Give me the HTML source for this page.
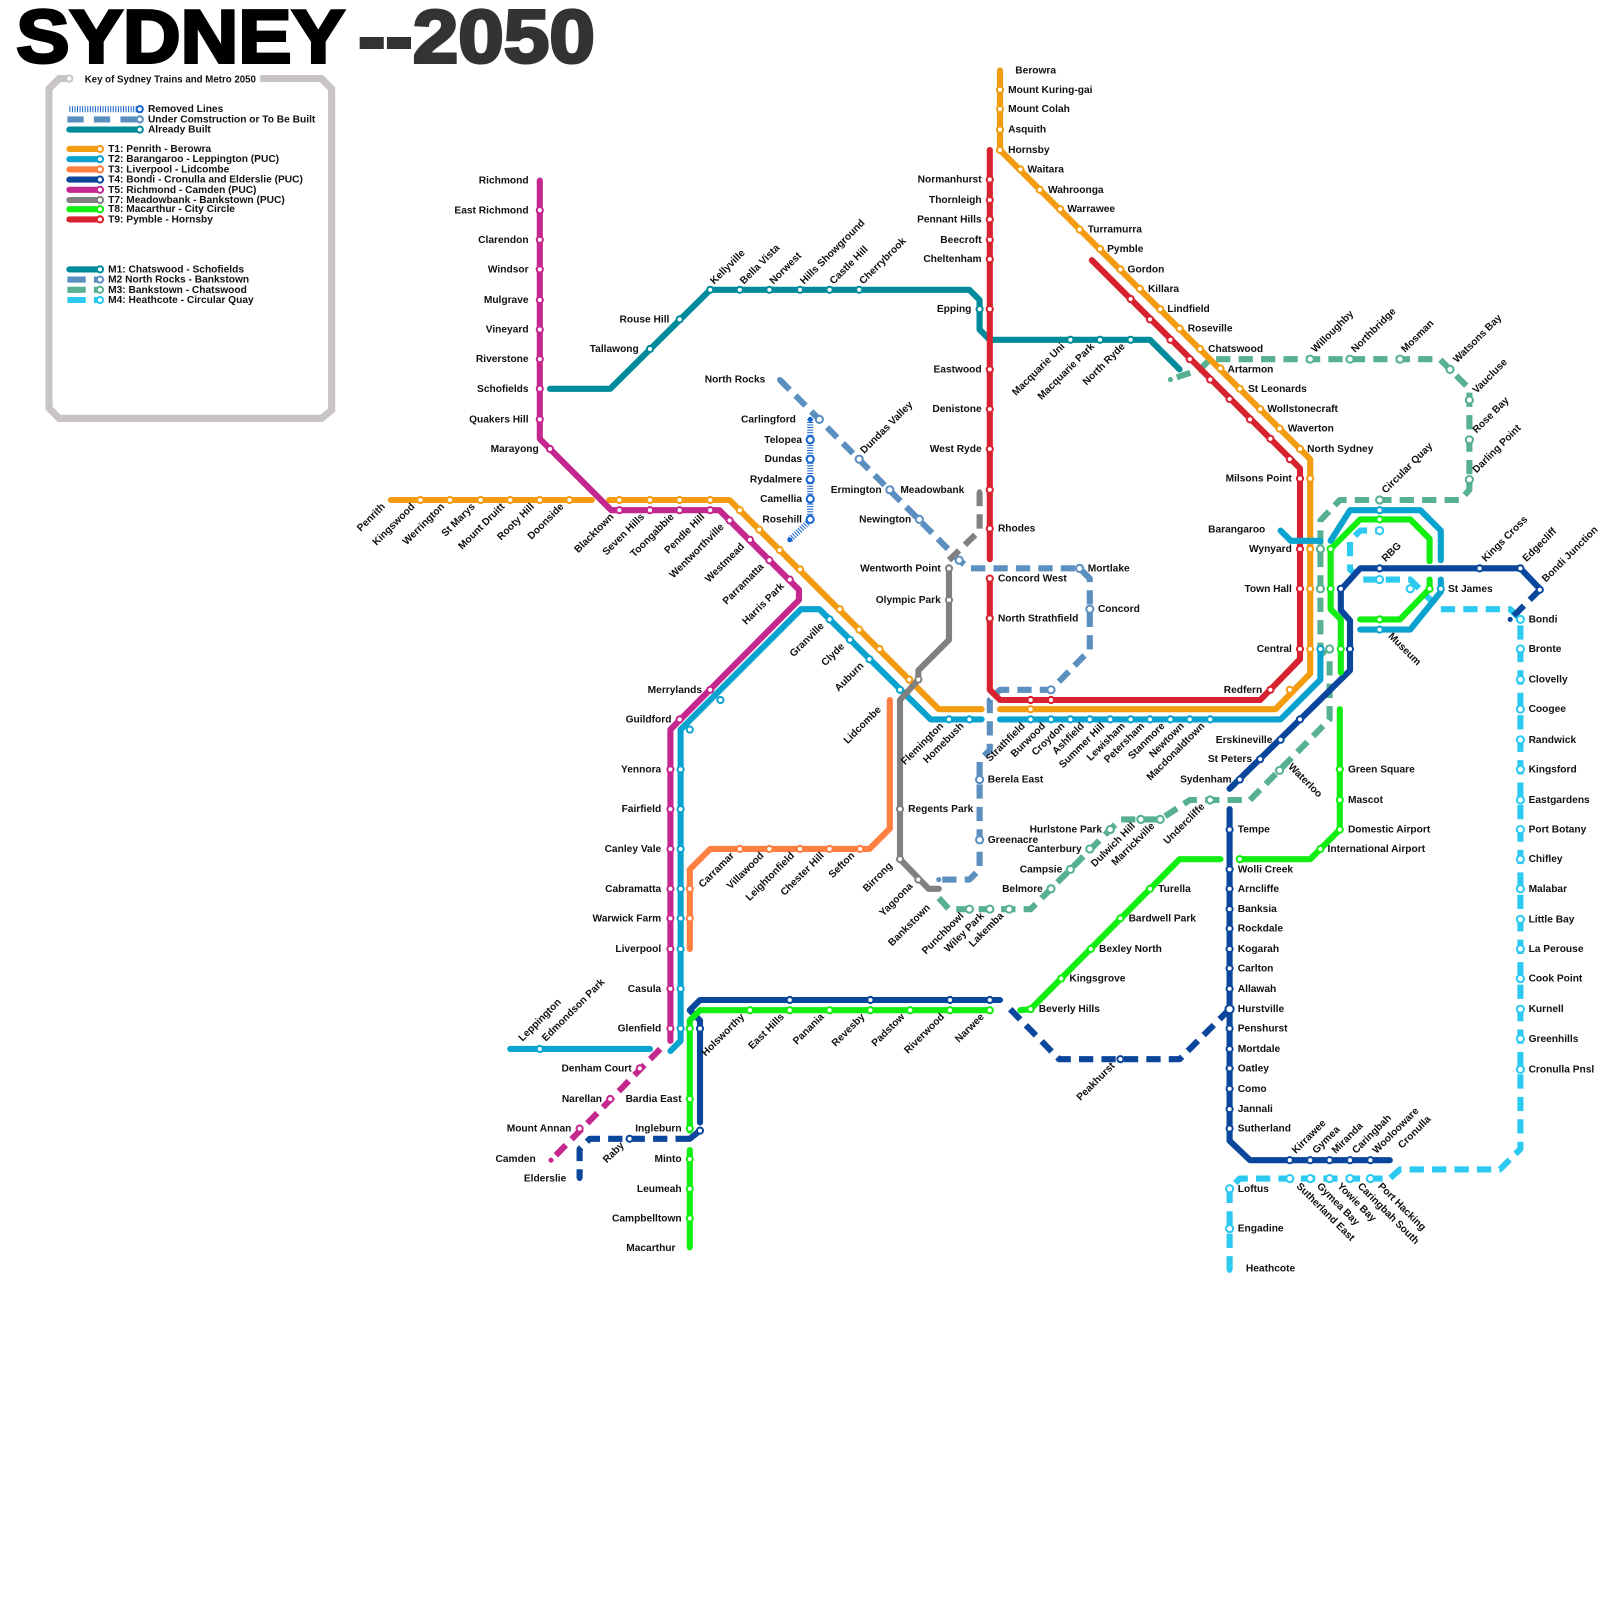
<!DOCTYPE html>
<html><head><meta charset="utf-8"><style>
html,body{margin:0;padding:0;background:#fff}
svg{display:block}
text{font-family:"Liberation Sans",sans-serif;font-size:10px;font-weight:bold;fill:#111}
.e{text-anchor:end}
.ln{fill:none;stroke-width:6;stroke-linecap:round;stroke-linejoin:round}
.dl{fill:none;stroke-width:6;stroke-linejoin:round;stroke-dasharray:14 8}
.st circle{fill:#fff;stroke-width:2}
</style></head><body>
<svg width="1600" height="1600" viewBox="0 0 1568 1568" xmlns="http://www.w3.org/2000/svg">
<!-- Title -->
<text x="16" y="61" style="font-size:74px;font-weight:900;fill:#000;stroke:#000;stroke-width:3" textLength="322" lengthAdjust="spacingAndGlyphs">SYDNEY</text>
<text x="351" y="61" style="font-size:74px;font-weight:900;fill:#333;stroke:#333;stroke-width:3" textLength="232" lengthAdjust="spacingAndGlyphs">--2050</text>

<!-- Legend -->
<path d="M58,77 L315,77 L325,87 L325,402 L315,410 L58,410 L48,400 L48,87 Z" fill="none" stroke="#c8c4c4" stroke-width="7"/>
<rect x="70" y="73" width="185" height="9" fill="#fff"/>
<circle cx="68" cy="77" r="3" fill="#fff" stroke="#c8c4c4" stroke-width="2"/>
<text x="83" y="81" style="font-size:9.5px">Key of Sydney Trains and Metro 2050</text>
<line x1="68" y1="107" x2="134" y2="107" stroke="#1a66cc" stroke-width="6" stroke-dasharray="1 1.5"/>
<line x1="66" y1="117" x2="134" y2="117" stroke="#5b8fc0" stroke-width="6" stroke-dasharray="16 10"/>
<line x1="68" y1="127" x2="134" y2="127" stroke="#008b9a" stroke-width="6" stroke-linecap="round"/>
<g class="st"><circle cx="137" cy="107" r="3" stroke="#1a66cc"/><circle cx="137" cy="117" r="3" stroke="#5b8fc0"/><circle cx="137" cy="127" r="3" stroke="#008b9a"/></g>
<text x="145" y="110">Removed Lines</text>
<text x="145" y="120">Under Comstruction or To Be Built</text>
<text x="145" y="130">Already Built</text>
<g stroke-width="6" stroke-linecap="round">
<line x1="68" y1="146" x2="96" y2="146" stroke="#f39c12"/>
<line x1="68" y1="156" x2="96" y2="156" stroke="#0aa3cf"/>
<line x1="68" y1="166" x2="96" y2="166" stroke="#ff7f40"/>
<line x1="68" y1="176" x2="96" y2="176" stroke="#0a469b"/>
<line x1="68" y1="186" x2="96" y2="186" stroke="#c4288f"/>
<line x1="68" y1="196" x2="96" y2="196" stroke="#808080"/>
<line x1="68" y1="205" x2="96" y2="205" stroke="#11ee11"/>
<line x1="68" y1="215" x2="96" y2="215" stroke="#d9222f"/>
<line x1="68" y1="264" x2="96" y2="264" stroke="#008b9a"/>
</g>
<g stroke-width="6">
<line x1="66" y1="274" x2="84" y2="274" stroke="#5b8fc0"/><line x1="92" y1="274" x2="98" y2="274" stroke="#5b8fc0"/>
<line x1="66" y1="284" x2="84" y2="284" stroke="#57b090"/><line x1="92" y1="284" x2="98" y2="284" stroke="#57b090"/>
<line x1="66" y1="294" x2="84" y2="294" stroke="#2cc9f1"/><line x1="92" y1="294" x2="98" y2="294" stroke="#2cc9f1"/>
</g>
<g class="st">
<circle cx="98" cy="146" r="3" stroke="#f39c12"/><circle cx="98" cy="156" r="3" stroke="#0aa3cf"/><circle cx="98" cy="166" r="3" stroke="#ff7f40"/><circle cx="98" cy="176" r="3" stroke="#0a469b"/><circle cx="98" cy="186" r="3" stroke="#c4288f"/><circle cx="98" cy="196" r="3" stroke="#808080"/><circle cx="98" cy="205" r="3" stroke="#11ee11"/><circle cx="98" cy="215" r="3" stroke="#d9222f"/>
<circle cx="98" cy="264" r="3" stroke="#008b9a"/><circle cx="98" cy="274" r="3" stroke="#5b8fc0"/><circle cx="98" cy="284" r="3" stroke="#57b090"/><circle cx="98" cy="294" r="3" stroke="#2cc9f1"/>
</g>
<text x="106" y="149">T1: Penrith - Berowra</text>
<text x="106" y="159">T2: Barangaroo - Leppington (PUC)</text>
<text x="106" y="169">T3: Liverpool - Lidcombe</text>
<text x="106" y="179">T4: Bondi - Cronulla  and Elderslie (PUC)</text>
<text x="106" y="189">T5: Richmond - Camden (PUC)</text>
<text x="106" y="199">T7: Meadowbank - Bankstown (PUC)</text>
<text x="106" y="208">T8: Macarthur - City  Circle</text>
<text x="106" y="218">T9: Pymble - Hornsby</text>
<text x="106" y="267">M1: Chatswood - Schofields</text>
<text x="106" y="277">M2 North Rocks - Bankstown</text>
<text x="106" y="287">M3: Bankstown - Chatswood</text>
<text x="106" y="297">M4: Heathcote - Circular Quay</text>

<!-- ===== LINES ===== -->
<!-- M2 dashed -->
<polyline class="dl" stroke="#5b8fc0" points="764,372 940,549 950,557 1058,557 1068,567 1068,637 1030,676 980,676 970,686 970,735 960,745 960,852 950,862 920,862"/>
<!-- M3 dashed -->
<polyline class="dl" stroke="#57b090" points="920,880 930,891 1010,891 1098,803 1137,803 1166,784 1225,784 1303,705 1303,646 1294,637 1294,510 1313,490 1431,490 1440,480 1440,381 1411,352 1186,352 1176,362 1147,372"/>
<!-- M4 dashed -->
<polyline class="dl" stroke="#2cc9f1" points="1205,1245 1205,1165 1215,1155 1362,1155 1372,1146 1470,1146 1490,1126 1490,607 1480,597 1411,597 1382,568 1333,568 1323,558 1323,530 1333,520 1352,520"/>
<!-- T4 dashed -->
<polyline class="dl" stroke="#0a469b" points="990,989 1038,1038 1156,1038 1205,989"/>
<polyline class="dl" stroke="#0a469b" points="676,1116 578,1116 568,1126 568,1155"/>
<polyline class="dl" stroke="#0a469b" points="1509,578 1480,607"/>
<!-- T5 dashed -->
<polyline class="dl" stroke="#c4288f" points="647,1028 540,1137"/>
<!-- T7 dashed top -->
<polyline class="dl" stroke="#808080" points="960,482 960,520 930,549"/>
<!-- Removed -->
<polyline fill="none" stroke="#1a66cc" stroke-width="6" stroke-dasharray="1 1.5" points="794,411 794,510 774,529"/>

<!-- M1 -->
<polyline class="ln" stroke="#008b9a" points="539,381 598,381 696,284 950,284 960,294 960,323 970,333 1127,333 1156,362"/>
<!-- T9 red -->
<polyline class="ln" stroke="#d9222f" points="970,147 970,548"/>
<polyline class="ln" stroke="#d9222f" points="970,567 970,676 980,686 1235,686 1274,646 1274,459 1070,255"/>
<!-- T1 orange -->
<polyline class="ln" stroke="#f39c12" points="383,490 580,490"/>
<polyline class="ln" stroke="#f39c12" points="597,490 715,490 920,695 962,695"/>
<polyline class="ln" stroke="#f39c12" points="980,695 1250,695 1284,660 1284,450 980,147 980,69"/>
<!-- T5 magenta -->
<polyline class="ln" stroke="#c4288f" points="529,177 529,430 599,500 705,500 783,578 783,588 657,715 657,1020"/>
<!-- T2 -->
<polyline class="ln" stroke="#0aa3cf" points="500,1028 637,1028"/>
<polyline class="ln" stroke="#0aa3cf" points="657,1030 667,1020 667,715 785,597 803,597 912,705 962,705"/>
<polyline class="ln" stroke="#0aa3cf" points="980,705 1255,705 1294,666 1294,636"/>
<polyline class="ln" stroke="#0aa3cf" points="1255,520 1265,530 1294,530"/>
<polyline class="ln" stroke="#0aa3cf" points="1304,530 1323,500 1392,500 1412,520 1412,549"/>
<polyline class="ln" stroke="#0aa3cf" points="1412,568 1412,580 1382,617 1333,617"/>
<!-- T3 -->
<polyline class="ln" stroke="#ff7f40" points="872,686 872,812 852,832 696,832 676,852 676,930"/>
<!-- T7 gray -->
<polyline class="ln" stroke="#808080" points="930,557 930,627 900,657 900,666 882,686 882,842 910,871 920,871"/>
<!-- T4 solid -->
<polyline class="ln" stroke="#0a469b" points="1490,557 1509,577"/>
<polyline class="ln" stroke="#0a469b" points="1490,557 1333,557 1314,578 1314,598 1323,608 1323,657 1205,773"/>
<polyline class="ln" stroke="#0a469b" points="1205,793 1205,1118 1225,1137 1362,1137"/>
<polyline class="ln" stroke="#0a469b" points="980,980 686,980 676,990 686,1000 686,1100"/>
<polyline class="ln" stroke="#0a469b" points="686,1108 676,1116"/>
<!-- T8 green -->
<polyline class="ln" stroke="#11ee11" points="676,1222 676,1127"/>
<polyline class="ln" stroke="#11ee11" points="676,1108 676,1000 686,990 970,990"/>
<polyline class="ln" stroke="#11ee11" points="1000,990 1010,989 1156,842 1196,842"/>
<polyline class="ln" stroke="#11ee11" points="1215,842 1284,842 1313,813 1313,695"/>
<polyline class="ln" stroke="#11ee11" points="1314,659 1314,607 1304,597 1304,538 1333,509 1382,509 1401,528 1401,550"/>
<polyline class="ln" stroke="#11ee11" points="1401,568 1401,577 1372,607 1333,607"/>

<!-- ===== STATIONS ===== -->
<g class="st">
<g stroke="#c4288f">
<circle cx="529" cy="206" r="3"/><circle cx="529" cy="235" r="3"/><circle cx="529" cy="264" r="3"/><circle cx="529" cy="294" r="3"/><circle cx="529" cy="323" r="3"/><circle cx="529" cy="352" r="3"/><circle cx="529" cy="381" r="3"/><circle cx="529" cy="411" r="3"/><circle cx="539" cy="440" r="3"/>
<circle cx="607" cy="500" r="3"/><circle cx="637" cy="500" r="3"/><circle cx="666" cy="500" r="3"/><circle cx="696" cy="500" r="3"/><circle cx="715" cy="510" r="3"/><circle cx="735" cy="529" r="3"/><circle cx="754" cy="549" r="3"/><circle cx="774" cy="568" r="3"/>
<circle cx="696" cy="676" r="3"/><circle cx="666" cy="705" r="3"/>
<circle cx="657" cy="754" r="3"/><circle cx="657" cy="793" r="3"/><circle cx="657" cy="832" r="3"/><circle cx="657" cy="871" r="3"/><circle cx="657" cy="900" r="3"/><circle cx="657" cy="930" r="3"/><circle cx="657" cy="969" r="3"/><circle cx="657" cy="1008" r="3"/>
<circle cx="627" cy="1047" r="3"/><circle cx="598" cy="1077" r="3"/><circle cx="568" cy="1106" r="3"/>
</g>
<g stroke="#f39c12">
<circle cx="412" cy="490" r="3"/><circle cx="441" cy="490" r="3"/><circle cx="471" cy="490" r="3"/><circle cx="500" cy="490" r="3"/><circle cx="529" cy="490" r="3"/><circle cx="558" cy="490" r="3"/>
<circle cx="607" cy="490" r="3"/><circle cx="637" cy="490" r="3"/><circle cx="666" cy="490" r="3"/><circle cx="696" cy="490" r="3"/>
<circle cx="725" cy="500" r="3"/><circle cx="744" cy="519" r="3"/><circle cx="764" cy="539" r="3"/><circle cx="784" cy="558" r="3"/><circle cx="823" cy="597" r="3"/><circle cx="842" cy="617" r="3"/><circle cx="862" cy="636" r="3"/><circle cx="891" cy="666" r="3"/>
<circle cx="1010" cy="695" r="3"/><circle cx="1264" cy="676" r="3"/>
<circle cx="1284" cy="469" r="3"/><circle cx="1284" cy="538" r="3"/><circle cx="1284" cy="577" r="3"/><circle cx="1284" cy="636" r="3"/>
<circle cx="1000" cy="166" r="3"/><circle cx="1019" cy="186" r="3"/><circle cx="1039" cy="205" r="3"/><circle cx="1058" cy="225" r="3"/><circle cx="1078" cy="244" r="3"/><circle cx="1098" cy="264" r="3"/><circle cx="1117" cy="283" r="3"/><circle cx="1137" cy="303" r="3"/><circle cx="1156" cy="322" r="3"/><circle cx="1176" cy="342" r="3"/><circle cx="1196" cy="361" r="3"/><circle cx="1215" cy="381" r="3"/><circle cx="1235" cy="401" r="3"/><circle cx="1254" cy="420" r="3"/><circle cx="1274" cy="440" r="3"/>
<circle cx="980" cy="88" r="3"/><circle cx="980" cy="107" r="3"/><circle cx="980" cy="127" r="3"/><circle cx="980" cy="147" r="3"/>
</g>
<g stroke="#d9222f">
<circle cx="970" cy="176" r="3"/><circle cx="970" cy="196" r="3"/><circle cx="970" cy="215" r="3"/><circle cx="970" cy="235" r="3"/><circle cx="970" cy="254" r="3"/><circle cx="970" cy="303" r="3"/><circle cx="970" cy="362" r="3"/><circle cx="970" cy="401" r="3"/><circle cx="970" cy="440" r="3"/><circle cx="970" cy="480" r="3"/><circle cx="970" cy="518" r="3"/><circle cx="970" cy="567" r="3"/><circle cx="970" cy="606" r="3"/>
<circle cx="1010" cy="686" r="3"/><circle cx="1030" cy="686" r="3"/><circle cx="1245" cy="676" r="3"/>
<circle cx="1274" cy="469" r="3"/><circle cx="1274" cy="538" r="3"/><circle cx="1274" cy="577" r="3"/><circle cx="1274" cy="636" r="3"/>
<circle cx="1108" cy="293" r="3"/><circle cx="1127" cy="313" r="3"/><circle cx="1147" cy="333" r="3"/><circle cx="1166" cy="352" r="3"/><circle cx="1186" cy="372" r="3"/><circle cx="1205" cy="391" r="3"/><circle cx="1225" cy="411" r="3"/><circle cx="1245" cy="430" r="3"/><circle cx="1264" cy="450" r="3"/>
</g>
<g stroke="#008b9a">
<circle cx="637" cy="342" r="3"/><circle cx="666" cy="313" r="3"/><circle cx="696" cy="284" r="3"/><circle cx="725" cy="284" r="3"/><circle cx="754" cy="284" r="3"/><circle cx="784" cy="284" r="3"/><circle cx="813" cy="284" r="3"/><circle cx="842" cy="284" r="3"/><circle cx="960" cy="303" r="3"/><circle cx="1049" cy="333" r="3"/><circle cx="1078" cy="333" r="3"/><circle cx="1108" cy="333" r="3"/>
</g>
<g stroke="#0aa3cf">
<circle cx="529" cy="1028" r="3"/>
<circle cx="667" cy="754" r="3"/><circle cx="667" cy="793" r="3"/><circle cx="667" cy="832" r="3"/><circle cx="667" cy="871" r="3"/><circle cx="667" cy="900" r="3"/><circle cx="667" cy="930" r="3"/><circle cx="667" cy="969" r="3"/><circle cx="667" cy="1008" r="3"/>
<circle cx="676" cy="715" r="3"/><circle cx="706" cy="686" r="3"/><circle cx="813" cy="607" r="3"/><circle cx="833" cy="627" r="3"/><circle cx="852" cy="646" r="3"/><circle cx="882" cy="676" r="3"/><circle cx="930" cy="705" r="3"/><circle cx="950" cy="705" r="3"/>
<circle cx="1010" cy="705" r="3"/><circle cx="1030" cy="705" r="3"/><circle cx="1049" cy="705" r="3"/><circle cx="1068" cy="705" r="3"/><circle cx="1088" cy="705" r="3"/><circle cx="1108" cy="705" r="3"/><circle cx="1127" cy="705" r="3"/><circle cx="1147" cy="705" r="3"/><circle cx="1166" cy="705" r="3"/><circle cx="1186" cy="705" r="3"/>
<circle cx="1294" cy="636" r="3"/><circle cx="1352" cy="500" r="3"/><circle cx="1352" cy="617" r="3"/><circle cx="1412" cy="577" r="3"/>
</g>
<g stroke="#ff7f40">
<circle cx="676" cy="871" r="3"/><circle cx="676" cy="900" r="3"/><circle cx="725" cy="832" r="3"/><circle cx="754" cy="832" r="3"/><circle cx="784" cy="832" r="3"/><circle cx="813" cy="832" r="3"/><circle cx="843" cy="832" r="3"/>
</g>
<g stroke="#808080">
<circle cx="930" cy="557" r="3"/><circle cx="930" cy="588" r="3"/><circle cx="900" cy="666" r="3"/><circle cx="882" cy="793" r="3"/><circle cx="882" cy="842" r="3"/><circle cx="900" cy="862" r="3"/>
</g>
<g stroke="#0a469b">
<circle cx="1509" cy="578" r="3"/><circle cx="1490" cy="557" r="3"/><circle cx="1450" cy="557" r="3"/><circle cx="1352" cy="557" r="3"/><circle cx="1314" cy="577" r="3"/><circle cx="1323" cy="636" r="3"/>
<circle cx="1274" cy="705" r="3"/><circle cx="1255" cy="725" r="3"/><circle cx="1235" cy="744" r="3"/><circle cx="1215" cy="764" r="3"/>
<circle cx="1205" cy="813" r="3"/><circle cx="1205" cy="852" r="3"/><circle cx="1205" cy="871" r="3"/><circle cx="1205" cy="891" r="3"/><circle cx="1205" cy="910" r="3"/><circle cx="1205" cy="930" r="3"/><circle cx="1205" cy="949" r="3"/><circle cx="1205" cy="969" r="3"/><circle cx="1205" cy="989" r="4"/><circle cx="1205" cy="1008" r="3"/><circle cx="1205" cy="1028" r="3"/><circle cx="1205" cy="1047" r="3"/><circle cx="1205" cy="1067" r="3"/><circle cx="1205" cy="1087" r="3"/><circle cx="1205" cy="1106" r="3"/>
<circle cx="1264" cy="1137" r="3"/><circle cx="1284" cy="1137" r="3"/><circle cx="1303" cy="1137" r="3"/><circle cx="1323" cy="1137" r="3"/><circle cx="1343" cy="1137" r="3"/>
<circle cx="774" cy="980" r="3"/><circle cx="853" cy="980" r="3"/><circle cx="931" cy="980" r="3"/><circle cx="970" cy="980" r="3"/><circle cx="686" cy="1008" r="3"/><circle cx="686" cy="1108" r="3"/>
<circle cx="1098" cy="1038" r="3"/><circle cx="617" cy="1116" r="3"/>
</g>
<g stroke="#11ee11">
<circle cx="676" cy="1008" r="3"/><circle cx="676" cy="1077" r="3"/><circle cx="676" cy="1106" r="3"/><circle cx="676" cy="1136" r="3"/><circle cx="676" cy="1165" r="3"/><circle cx="676" cy="1194" r="3"/>
<circle cx="735" cy="990" r="3"/><circle cx="774" cy="990" r="3"/><circle cx="813" cy="990" r="3"/><circle cx="853" cy="990" r="3"/><circle cx="892" cy="990" r="3"/><circle cx="931" cy="990" r="3"/><circle cx="970" cy="990" r="3"/>
<circle cx="1010" cy="989" r="3"/><circle cx="1040" cy="959" r="3"/><circle cx="1069" cy="930" r="3"/><circle cx="1098" cy="900" r="3"/><circle cx="1127" cy="871" r="3"/>
<circle cx="1215" cy="842" r="3"/><circle cx="1294" cy="832" r="3"/><circle cx="1313" cy="813" r="3"/><circle cx="1313" cy="784" r="3"/><circle cx="1313" cy="754" r="3"/>
<circle cx="1304" cy="538" r="3"/><circle cx="1304" cy="577" r="3"/><circle cx="1314" cy="636" r="3"/><circle cx="1352" cy="509" r="3"/><circle cx="1401" cy="577" r="3"/><circle cx="1352" cy="607" r="3"/>
</g>
<g stroke="#5b8fc0">
<circle cx="803" cy="411" r="3.5"/><circle cx="842" cy="450" r="3.5"/><circle cx="872" cy="480" r="3.5"/><circle cx="901" cy="509" r="3.5"/><circle cx="940" cy="549" r="3.5"/><circle cx="1058" cy="557" r="3.5"/><circle cx="1068" cy="597" r="3.5"/><circle cx="1030" cy="676" r="3.5"/><circle cx="960" cy="764" r="3.5"/><circle cx="960" cy="823" r="3.5"/>
</g>
<g stroke="#57b090">
<circle cx="950" cy="891" r="3.5"/><circle cx="970" cy="891" r="3.5"/><circle cx="989" cy="891" r="3.5"/><circle cx="1030" cy="871" r="3.5"/><circle cx="1049" cy="852" r="3.5"/><circle cx="1068" cy="832" r="3.5"/><circle cx="1088" cy="813" r="3.5"/><circle cx="1118" cy="803" r="3.5"/><circle cx="1137" cy="803" r="3.5"/><circle cx="1186" cy="784" r="3.5"/><circle cx="1254" cy="755" r="3.5"/>
<circle cx="1294" cy="538" r="3.5"/><circle cx="1294" cy="577" r="3.5"/><circle cx="1303" cy="636" r="3.5"/><circle cx="1352" cy="490" r="3.5"/><circle cx="1440" cy="470" r="3.5"/><circle cx="1440" cy="431" r="3.5"/><circle cx="1440" cy="392" r="3.5"/><circle cx="1421" cy="362" r="3.5"/><circle cx="1372" cy="352" r="3.5"/><circle cx="1323" cy="352" r="3.5"/><circle cx="1284" cy="352" r="3.5"/>
</g>
<g stroke="#2cc9f1">
<circle cx="1205" cy="1165" r="3.5"/><circle cx="1205" cy="1204" r="3.5"/><circle cx="1264" cy="1155" r="3.5"/><circle cx="1284" cy="1155" r="3.5"/><circle cx="1303" cy="1155" r="3.5"/><circle cx="1323" cy="1155" r="3.5"/><circle cx="1343" cy="1155" r="3.5"/>
<circle cx="1490" cy="607" r="3.5"/><circle cx="1490" cy="636" r="3.5"/><circle cx="1490" cy="666" r="3.5"/><circle cx="1490" cy="695" r="3.5"/><circle cx="1490" cy="725" r="3.5"/><circle cx="1490" cy="754" r="3.5"/><circle cx="1490" cy="784" r="3.5"/><circle cx="1490" cy="813" r="3.5"/><circle cx="1490" cy="842" r="3.5"/><circle cx="1490" cy="871" r="3.5"/><circle cx="1490" cy="901" r="3.5"/><circle cx="1490" cy="930" r="3.5"/><circle cx="1490" cy="959" r="3.5"/><circle cx="1490" cy="989" r="3.5"/><circle cx="1490" cy="1018" r="3.5"/><circle cx="1490" cy="1048" r="3.5"/>
<circle cx="1352" cy="568" r="3.5"/><circle cx="1352" cy="520" r="3.5"/><circle cx="1382" cy="577" r="3.5"/>
</g>
<g stroke="#1a66cc">
<circle cx="794" cy="431" r="3.5"/><circle cx="794" cy="450" r="3.5"/><circle cx="794" cy="470" r="3.5"/><circle cx="794" cy="489" r="3.5"/><circle cx="794" cy="509" r="3.5"/>
</g>
</g>
<!-- end dots -->
<g>
<circle cx="529" cy="177" r="2.5" fill="#c4288f"/><circle cx="540" cy="1137" r="2.5" fill="#c4288f"/>
<circle cx="383" cy="490" r="2.5" fill="#f39c12"/><circle cx="980" cy="69" r="2.5" fill="#f39c12"/>
<circle cx="500" cy="1028" r="2.5" fill="#0aa3cf"/><circle cx="1255" cy="520" r="2.5" fill="#0aa3cf"/>
<circle cx="872" cy="686" r="2.5" fill="#ff7f40"/><circle cx="676" cy="930" r="2.5" fill="#ff7f40"/>
<circle cx="960" cy="482" r="2.5" fill="#808080"/><circle cx="920" cy="871" r="2.5" fill="#808080"/>
<circle cx="676" cy="1223" r="2.5" fill="#11ee11"/>
<circle cx="539" cy="381" r="2.5" fill="#008b9a"/><circle cx="1156" cy="362" r="2.5" fill="#008b9a"/>
<circle cx="764" cy="372" r="2.5" fill="#5b8fc0"/><circle cx="920" cy="862" r="2.5" fill="#5b8fc0"/>
<circle cx="1147" cy="372" r="2.5" fill="#57b090"/>
<circle cx="1205" cy="1245" r="2.5" fill="#2cc9f1"/>
<circle cx="568" cy="1155" r="2.5" fill="#0a469b"/><circle cx="1362" cy="1137" r="2.5" fill="#0a469b"/><circle cx="1480" cy="607" r="2.5" fill="#0a469b"/>
<circle cx="794" cy="411" r="2.5" fill="#1a66cc"/><circle cx="774" cy="529" r="2.5" fill="#1a66cc"/>
<circle cx="970" cy="147" r="2.5" fill="#d9222f"/><circle cx="1070" cy="255" r="2.5" fill="#d9222f"/>
</g>

<!-- ===== LABELS: left (end) ===== -->
<g class="e">
<text x="518" y="180">Richmond</text><text x="518" y="209">East Richmond</text><text x="518" y="238">Clarendon</text><text x="518" y="267">Windsor</text><text x="518" y="297">Mulgrave</text><text x="518" y="326">Vineyard</text><text x="518" y="355">Riverstone</text><text x="518" y="384">Schofields</text><text x="518" y="414">Quakers Hill</text><text x="528" y="443">Marayong</text>
<text x="656" y="316">Rouse Hill</text><text x="626" y="345">Tallawong</text>
<text x="750" y="375">North Rocks</text><text x="780" y="414">Carlingford</text><text x="786" y="434">Telopea</text><text x="786" y="453">Dundas</text><text x="786" y="473">Rydalmere</text><text x="786" y="492">Camellia</text><text x="786" y="512">Rosehill</text>
<text x="864" y="483">Ermington</text><text x="945" y="483">Meadowbank</text><text x="893" y="512">Newington</text><text x="922" y="560">Wentworth Point</text><text x="922" y="591">Olympic Park</text>
<text x="962" y="179">Normanhurst</text><text x="962" y="199">Thornleigh</text><text x="962" y="218">Pennant Hills</text><text x="962" y="238">Beecroft</text><text x="962" y="257">Cheltenham</text><text x="952" y="306">Epping</text><text x="962" y="365">Eastwood</text><text x="962" y="404">Denistone</text><text x="962" y="443">West Ryde</text>
<text x="1266" y="472">Milsons Point</text><text x="1266" y="541">Wynyard</text><text x="1266" y="580">Town Hall</text><text x="1266" y="639">Central</text><text x="1240" y="522">Barangaroo</text><text x="1237" y="679">Redfern</text>
<text x="1247" y="728">Erskineville</text><text x="1227" y="747">St Peters</text><text x="1207" y="767">Sydenham</text>
<text x="688" y="679">Merrylands</text><text x="658" y="708">Guildford</text>
<text x="648" y="757">Yennora</text><text x="648" y="796">Fairfield</text><text x="648" y="835">Canley Vale</text><text x="648" y="874">Cabramatta</text><text x="648" y="903">Warwick Farm</text><text x="648" y="933">Liverpool</text><text x="648" y="972">Casula</text><text x="648" y="1011">Glenfield</text>
<text x="619" y="1050">Denham Court</text><text x="590" y="1080">Narellan</text><text x="560" y="1109">Mount Annan</text><text x="525" y="1139">Camden</text><text x="555" y="1158">Elderslie</text>
<text x="668" y="1080">Bardia East</text><text x="668" y="1109">Ingleburn</text><text x="668" y="1139">Minto</text><text x="668" y="1168">Leumeah</text><text x="668" y="1197">Campbelltown</text><text x="662" y="1226">Macarthur</text>
<text x="1080" y="816">Hurlstone Park</text><text x="1060" y="835">Canterbury</text><text x="1041" y="855">Campsie</text><text x="1022" y="874">Belmore</text>
</g>
<!-- right labels -->
<g>
<text x="995" y="72">Berowra</text><text x="988" y="91">Mount Kuring-gai</text><text x="988" y="110">Mount Colah</text><text x="988" y="130">Asquith</text><text x="988" y="150">Hornsby</text>
<text x="1007" y="169">Waitara</text><text x="1027" y="189">Wahroonga</text><text x="1046" y="208">Warrawee</text><text x="1066" y="228">Turramurra</text><text x="1085" y="247">Pymble</text><text x="1105" y="267">Gordon</text><text x="1125" y="286">Killara</text><text x="1144" y="306">Lindfield</text><text x="1164" y="325">Roseville</text><text x="1184" y="345">Chatswood</text><text x="1203" y="365">Artarmon</text><text x="1223" y="384">St Leonards</text><text x="1242" y="404">Wollstonecraft</text><text x="1262" y="423">Waverton</text><text x="1281" y="443">North Sydney</text>
<text x="978" y="521">Rhodes</text><text x="978" y="570">Concord West</text><text x="978" y="609">North Strathfield</text>
<text x="1066" y="560">Mortlake</text><text x="1076" y="600">Concord</text><text x="968" y="767">Berela East</text><text x="968" y="826">Greenacre</text><text x="890" y="796">Regents Park</text>
<text x="1419" y="580">St James</text>
<text x="1213" y="816">Tempe</text><text x="1213" y="855">Wolli Creek</text><text x="1213" y="874">Arncliffe</text><text x="1213" y="894">Banksia</text><text x="1213" y="913">Rockdale</text><text x="1213" y="933">Kogarah</text><text x="1213" y="952">Carlton</text><text x="1213" y="972">Allawah</text><text x="1213" y="992">Hurstville</text><text x="1213" y="1011">Penshurst</text><text x="1213" y="1031">Mortdale</text><text x="1213" y="1050">Oatley</text><text x="1213" y="1070">Como</text><text x="1213" y="1090">Jannali</text><text x="1213" y="1109">Sutherland</text>
<text x="1213" y="1168">Loftus</text><text x="1213" y="1207">Engadine</text><text x="1221" y="1246">Heathcote</text>
<text x="1321" y="757">Green Square</text><text x="1321" y="787">Mascot</text><text x="1321" y="816">Domestic Airport</text><text x="1301" y="835">International Airport</text>
<text x="1135" y="874">Turella</text><text x="1106" y="903">Bardwell Park</text><text x="1077" y="933">Bexley North</text><text x="1048" y="962">Kingsgrove</text><text x="1018" y="992">Beverly Hills</text>
<text x="1498" y="610">Bondi</text><text x="1498" y="639">Bronte</text><text x="1498" y="669">Clovelly</text><text x="1498" y="698">Coogee</text><text x="1498" y="728">Randwick</text><text x="1498" y="757">Kingsford</text><text x="1498" y="787">Eastgardens</text><text x="1498" y="816">Port Botany</text><text x="1498" y="845">Chifley</text><text x="1498" y="874">Malabar</text><text x="1498" y="904">Little Bay</text><text x="1498" y="933">La Perouse</text><text x="1498" y="962">Cook Point</text><text x="1498" y="992">Kurnell</text><text x="1498" y="1021">Greenhills</text><text x="1498" y="1051">Cronulla Pnsl</text>
</g>
<!-- rotated below-left (end) -->
<g class="e">
<text transform="translate(378,497) rotate(-45)">Penrith</text>
<text transform="translate(407,497) rotate(-45)">Kingswood</text>
<text transform="translate(436,497) rotate(-45)">Werrington</text>
<text transform="translate(466,497) rotate(-45)">St Marys</text>
<text transform="translate(495,497) rotate(-45)">Mount Druitt</text>
<text transform="translate(524,497) rotate(-45)">Rooty Hill</text>
<text transform="translate(553,497) rotate(-45)">Doonside</text>
<text transform="translate(602,507) rotate(-45)">Blacktown</text>
<text transform="translate(632,507) rotate(-45)">Seven Hills</text>
<text transform="translate(661,507) rotate(-45)">Toongabbie</text>
<text transform="translate(691,507) rotate(-45)">Pendle Hill</text>
<text transform="translate(710,517) rotate(-45)">Wentworthville</text>
<text transform="translate(730,536) rotate(-45)">Westmead</text>
<text transform="translate(749,556) rotate(-45)">Parramatta</text>
<text transform="translate(769,575) rotate(-45)">Harris Park</text>
<text transform="translate(808,614) rotate(-45)">Granville</text>
<text transform="translate(828,634) rotate(-45)">Clyde</text>
<text transform="translate(847,653) rotate(-45)">Auburn</text>
<text transform="translate(864,696) rotate(-45)">Lidcombe</text>
<text transform="translate(925,712) rotate(-45)">Flemington</text>
<text transform="translate(945,712) rotate(-45)">Homebush</text>
<text transform="translate(1005,712) rotate(-45)">Strathfield</text>
<text transform="translate(1025,712) rotate(-45)">Burwood</text>
<text transform="translate(1044,712) rotate(-45)">Croydon</text>
<text transform="translate(1063,712) rotate(-45)">Ashfield</text>
<text transform="translate(1083,712) rotate(-45)">Summer Hill</text>
<text transform="translate(1103,712) rotate(-45)">Lewisham</text>
<text transform="translate(1122,712) rotate(-45)">Petersham</text>
<text transform="translate(1142,712) rotate(-45)">Stanmore</text>
<text transform="translate(1161,712) rotate(-45)">Newtown</text>
<text transform="translate(1181,712) rotate(-45)">Macdonaldtown</text>
<text transform="translate(1044,340) rotate(-45)">Macquarie Uni</text>
<text transform="translate(1073,340) rotate(-45)">Macquarie Park</text>
<text transform="translate(1103,340) rotate(-45)">North Ryde</text>
<text transform="translate(720,839) rotate(-45)">Carramar</text>
<text transform="translate(749,839) rotate(-45)">Villawood</text>
<text transform="translate(779,839) rotate(-45)">Leightonfield</text>
<text transform="translate(808,839) rotate(-45)">Chester Hill</text>
<text transform="translate(838,839) rotate(-45)">Sefton</text>
<text transform="translate(875,849) rotate(-45)">Birrong</text>
<text transform="translate(895,869) rotate(-45)">Yagoona</text>
<text transform="translate(912,890) rotate(-45)">Bankstown</text>
<text transform="translate(945,898) rotate(-45)">Punchbowl</text>
<text transform="translate(965,898) rotate(-45)">Wiley Park</text>
<text transform="translate(984,898) rotate(-45)">Lakemba</text>
<text transform="translate(1113,810) rotate(-45)">Dulwich Hill</text>
<text transform="translate(1132,810) rotate(-45)">Marrickville</text>
<text transform="translate(1181,791) rotate(-45)">Undercliffe</text>
<text transform="translate(730,997) rotate(-45)">Holsworthy</text>
<text transform="translate(769,997) rotate(-45)">East Hills</text>
<text transform="translate(808,997) rotate(-45)">Panania</text>
<text transform="translate(848,997) rotate(-45)">Revesby</text>
<text transform="translate(887,997) rotate(-45)">Padstow</text>
<text transform="translate(926,997) rotate(-45)">Riverwood</text>
<text transform="translate(965,997) rotate(-45)">Narwee</text>
<text transform="translate(1093,1045) rotate(-45)">Peakhurst</text>
<text transform="translate(612,1123) rotate(-45)">Raby</text>
</g>
<!-- rotated up-right (start) -->
<g>
<text transform="translate(700,279) rotate(-45)">Kellyville</text>
<text transform="translate(729,279) rotate(-45)">Bella Vista</text>
<text transform="translate(758,279) rotate(-45)">Norwest</text>
<text transform="translate(788,279) rotate(-45)">Hills Showground</text>
<text transform="translate(817,279) rotate(-45)">Castle Hill</text>
<text transform="translate(846,279) rotate(-45)">Cherrybrook</text>
<text transform="translate(847,445) rotate(-45)">Dundas Valley</text>
<text transform="translate(512,1021) rotate(-45)">Leppington</text>
<text transform="translate(535,1021) rotate(-45)">Edmondson Park</text>
<text transform="translate(1289,346) rotate(-45)">Willoughby</text>
<text transform="translate(1328,346) rotate(-45)">Northbridge</text>
<text transform="translate(1377,346) rotate(-45)">Mosman</text>
<text transform="translate(1428,356) rotate(-45)">Watsons Bay</text>
<text transform="translate(1447,386) rotate(-45)">Vaucluse</text>
<text transform="translate(1447,425) rotate(-45)">Rose Bay</text>
<text transform="translate(1447,464) rotate(-45)">Darling Point</text>
<text transform="translate(1358,484) rotate(-45)">Circular Quay</text>
<text transform="translate(1358,551) rotate(-45)">RBG</text>
<text transform="translate(1456,551) rotate(-45)">Kings Cross</text>
<text transform="translate(1496,551) rotate(-45)">Edgecliff</text>
<text transform="translate(1515,571) rotate(-45)">Bondi Junction</text>
<text transform="translate(1270,1131) rotate(-45)">Kirrawee</text>
<text transform="translate(1290,1131) rotate(-45)">Gymea</text>
<text transform="translate(1309,1131) rotate(-45)">Miranda</text>
<text transform="translate(1329,1131) rotate(-45)">Caringbah</text>
<text transform="translate(1349,1131) rotate(-45)">Woolooware</text>
<text transform="translate(1374,1126) rotate(-45)">Cronulla</text>
</g>
<!-- rotated down-right -->
<g>
<text transform="translate(1262,752) rotate(45)">Waterloo</text>
<text transform="translate(1360,624) rotate(45)">Museum</text>
<text transform="translate(1270,1163) rotate(45)">Sutherland East</text>
<text transform="translate(1290,1163) rotate(45)">Gymea Bay</text>
<text transform="translate(1310,1163) rotate(45)">Yowie Bay</text>
<text transform="translate(1330,1163) rotate(45)">Caringbah South</text>
<text transform="translate(1350,1163) rotate(45)">Port Hacking</text>
</g>
</svg>
</body></html>
